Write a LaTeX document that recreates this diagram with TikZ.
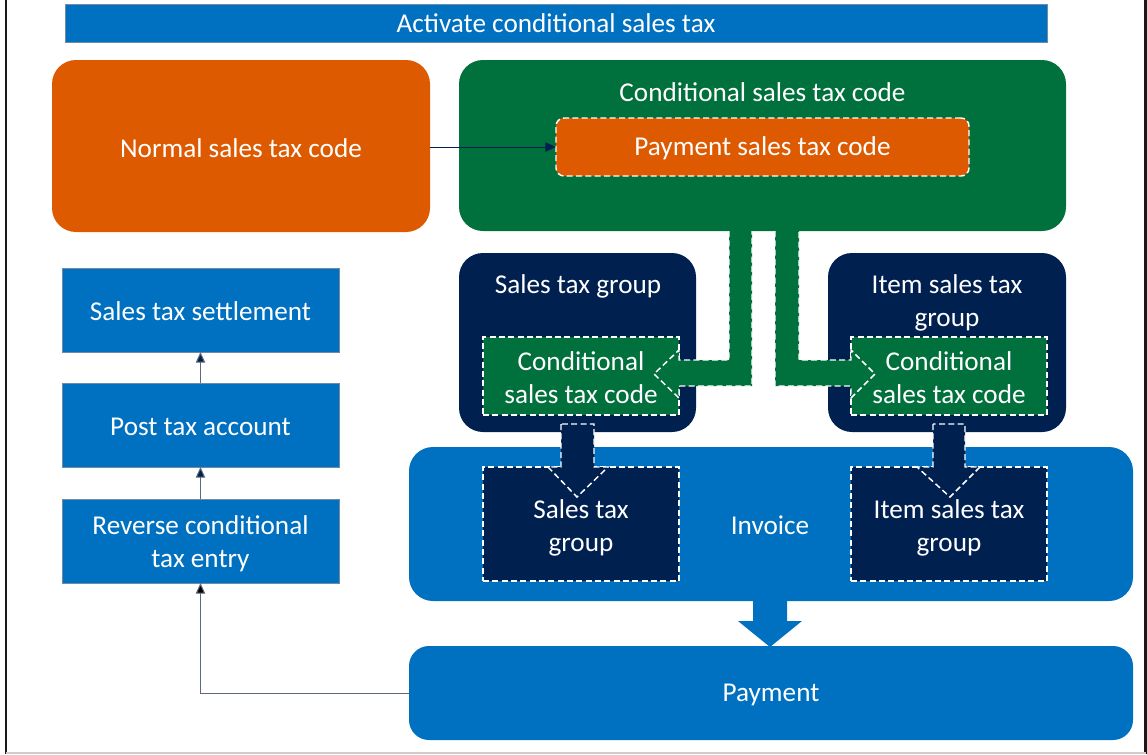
\documentclass[tikz,border=0pt]{standalone}
\usepackage{fontspec}
\setmainfont{Carlito}
\usetikzlibrary{arrows.meta}
\definecolor{cblue}{HTML}{0070C0}
\definecolor{corange}{HTML}{DD5A00}
\definecolor{cgreen}{HTML}{00703C}
\definecolor{cnavy}{HTML}{002050}
\definecolor{cedge}{HTML}{6F8BA8}
\definecolor{cgray}{HTML}{5E6A7A}
\tikzset{
  sz/.style 2 args={minimum width=#1*0.75pt, minimum height=#2*0.75pt},
  box/.style={inner sep=0pt, outer sep=0pt, text=white, align=center,
              font=\fontsize{20.4}{24.75}\selectfont},
  rbox/.style={rounded corners=18pt},
  wdash/.style={draw=white, line width=1.1pt, dash pattern=on 4.5pt off 2.5pt},
  dbox/.style={wdash},
  lbox/.style={fill=cblue, draw=cedge, line width=0.6pt},
  navarrow/.style={draw=cnavy, line width=0.75pt, -{Triangle[length=8pt,width=7pt]}},
  garrow/.style={draw=cgray, line width=0.75pt, -{Triangle[length=8pt,width=7pt,fill=cnavy]}},
  barrow/.style={draw=cgray, line width=0.75pt, -{Triangle[length=8pt,width=7pt,fill=black]}},
  frameline/.style={line width=1.6pt, draw=black!90}
}
\begin{document}
\begin{tikzpicture}[x=0.75pt,y=-0.75pt]
\useasboundingbox (0,0) rectangle (1147,754);
% frame
\draw[frameline] (6,0) -- (6,754);
\draw[frameline] (1145.5,0) -- (1145.5,754);
\draw[draw=black!20, line width=1pt] (6,753) -- (1145.5,753);

% title
\node[box, sz={982}{38}, fill=cblue, draw=cedge, line width=0.6pt] (title) at (556,23) {Activate conditional sales tax};

% top row
\node[box, rbox, sz={378}{172}, fill=corange] (normal) at (241,146) {};
\node[box] (normaltxt) at (241,148) {Normal sales tax code};
\node[box, rbox, sz={607}{171}, fill=cgreen] (cond) at (762.5,145.5) {};
\node[box] (condlbl) at (762.5,92) {Conditional sales tax code};
\node[box, dbox, sz={413}{58}, fill=corange, rounded corners=6pt] (pay) at (762.5,147) {};
\node[box] (paytxt) at (762.5,148) {Payment sales tax code};
\draw[navarrow] (normal.east |- pay.west) -- (pay.west);

% tax groups
\node[box, rbox, sz={237}{179}, fill=cnavy] (stg) at (577.5,342.5) {};
\node[box] (stglbl) at (578,286) {Sales tax group};
\node[box, rbox, sz={238}{179}, fill=cnavy] (istg) at (947,342.5) {};
\node[box] (istglbl) at (947,302.5) {Item sales tax\\group};
\node[box, dbox, sz={196}{78}, fill=cgreen] (cst1) at (581,376) {};
\node[box] (cst1txt) at (581,378) {Conditional\\sales tax code};
\node[box, dbox, sz={196}{78}, fill=cgreen] (cst2) at (949,376) {};
\node[box] (cst2txt) at (949,378) {Conditional\\sales tax code};

% green bent block arrows
\fill[cgreen] (729,229) -- (729,360) -- (679,360) -- (679,350) -- (654,374) -- (679,398) -- (679,386) -- (752,386) -- (752,229) -- cycle;
\draw[wdash] (729,231) -- (729,360) -- (679,360) -- (679,350) -- (654,374) -- (679,398) -- (679,386) -- (752,386) -- (752,231);
\fill[cgreen] (775,229) -- (775,386) -- (851,386) -- (851,398) -- (875,374) -- (851,350) -- (851,360) -- (799,360) -- (799,229) -- cycle;
\draw[wdash] (775,231) -- (775,386) -- (851,386) -- (851,398) -- (875,374) -- (851,350) -- (851,360) -- (799,360) -- (799,231);

% invoice
\node[box, rbox, sz={724}{154}, fill=cblue] (inv) at (771,524) {};
\node[box] (invtxt) at (770,525) {Invoice};
\node[box, dbox, sz={196}{114}, fill=cnavy] (st1) at (581,524) {};
\node[box, dbox, sz={196}{114}, fill=cnavy] (st2) at (949,524) {};

% navy down block arrows
\filldraw[fill=cnavy, wdash] (561,424) -- (561,467) -- (548,467) -- (577,497) -- (608,467) -- (594,467) -- (594,424) -- cycle;
\filldraw[fill=cnavy, wdash] (933,424) -- (933,467) -- (917,467) -- (950,497) -- (980,467) -- (965,467) -- (965,424) -- cycle;
\node[box] (st1txt) at (581,528) {Sales tax\\group};
\node[box] (st2txt) at (949,528) {Item sales tax\\group};

% payment
\node[box, rounded corners=15pt, sz={724}{94}, fill=cblue] (paym) at (771,693) {};
\node[box] (paymtxt) at (771,695) {Payment};
\fill[cblue] (753,599) -- (753,621) -- (738,621) -- (770,647) -- (802,621) -- (787,621) -- (787,599) -- cycle;

% left column
\node[box, lbox, sz={277}{84}] (settle) at (200.5,310) {};
\node[box] (settletxt) at (200.5,311) {Sales tax settlement};
\node[box, lbox, sz={277}{84}] (post) at (200.5,425) {};
\node[box] (posttxt) at (200.5,427) {Post tax account};
\node[box, lbox, sz={277}{84}] (rev) at (200.5,541) {};
\node[box] (revtxt) at (200.5,544) {Reverse conditional\\tax entry};
\draw[garrow] (rev.north) -- (post.south);
\draw[garrow] (post.north) -- (settle.south);
\draw[barrow] (paym.west) -| (rev.south);
\end{tikzpicture}
\end{document}
